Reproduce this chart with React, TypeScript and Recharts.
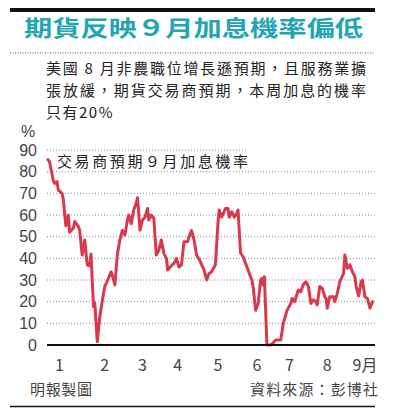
import React from 'react';
import {
  LineChart,
  Line,
  XAxis,
  YAxis,
  CartesianGrid,
  ReferenceLine
} from 'recharts';

// day of year (1 Jan = 0) for each reading
const days = [
  0, 2, 5, 6, 8, 9, 12, 13, 15, 17, 18, 21, 22, 25, 26, 28, 30,
  32, 34, 35, 37, 38, 40, 42, 45, 46, 49, 51, 53, 54, 56, 58,
  60, 62, 64, 65, 67, 69, 71, 72, 74, 76, 78, 80, 81, 83, 85, 87, 89,
  91, 93, 95, 96, 98, 101, 103, 105, 107, 109, 112, 113, 115, 117, 119,
  122, 125, 127, 129, 131, 134, 136, 137, 139, 142, 144, 145, 147, 149,
  151, 152, 154, 156, 158, 160, 162, 163, 164, 166, 168, 170, 171, 172, 173, 175, 178, 180,
  182, 186, 188, 191, 192, 194, 195, 197, 200, 202, 204, 206, 208, 210,
  212, 214, 215, 217, 219, 221, 222, 223, 225, 228, 229, 231, 233, 236, 237, 239, 241,
  243, 245, 246, 248, 250, 251, 253, 255, 257, 259, 260
];

// probability (%) of a September hike priced by traders
const hikeProb = [
  86, 84.6, 76, 74.6, 75.4, 71.5, 70, 67, 55, 60, 52, 54, 57, 54.6, 53, 41.5, 48.5,
  37, 36.5, 42, 17.7, 19.4, 1.5, 13, 24, 27, 31, 33.8, 30, 27.7, 42, 48.5,
  53, 50.8, 57.7, 60, 56, 62.3, 65.4, 68, 53, 57.7, 59, 63, 57.7, 60, 58.5, 41.5, 43.8,
  48.5, 42.3, 40, 34.6, 36, 37.7, 40, 36, 37, 47.7, 47.7, 50, 52.8, 48.5, 41.5,
  38.5, 34.6, 30, 33, 33.8, 37, 56, 62.3, 59, 63, 63, 59, 61.5, 59,
  60.8, 62.3, 42.5, 40.8, 37.7, 34.6, 31.5, 30, 27, 16, 19.2, 30, 30.8, 27.7, 31.5, 0, 0, 1,
  2.3, 2.3, 10, 16, 17, 19.2, 21.5, 20, 25.4, 24.6, 28, 29.2, 27, 19.2,
  20.8, 20, 18.5, 27, 26.2, 22.3, 21.5, 17, 22.3, 22.3, 20, 23.8, 29.2, 33, 41.5, 35.4, 37,
  33.8, 31.5, 27, 22.6, 29.2, 30, 22.3, 21.5, 17, 20, 20
];

const monthStarts = [0, 31, 59, 90, 120, 151, 181, 212, 243];
const monthLabelDays = [10, 46, 76, 104, 136, 167, 193, 223, 253];
const monthLabels = ['1', '2', '3', '4', '5', '6', '7', '8', '9月'];
const yTicks = [0, 10, 20, 30, 40, 50, 60, 70, 80, 90];
const gridValues = [10, 20, 30, 40, 50, 60, 70, 80];

const data = days.map((d, i) => ({ day: d, prob: hikeProb[i] }));

const FONT = "'Liberation Sans', 'Noto Sans CJK TC', sans-serif";
const CJK = "'Noto Sans CJK TC', 'Liberation Sans', sans-serif";
const RED = '#d8394d';

export default function App() {
  return (
    <div style={{ position: 'absolute', left: 0, top: 0, width: 394, height: 417, background: '#fff', fontFamily: FONT }}>
      <LineChart
        width={394}
        height={417}
        data={data}
        margin={{ top: 150, right: 19, bottom: 34, left: 0 }}
      >
        <CartesianGrid
          vertical={false}
          horizontalValues={gridValues}
          stroke="#8a8a8a"
          strokeDasharray="1 2"
        />
        <ReferenceLine
          segment={[{ x: 0, y: 90 }, { x: 160, y: 90 }]}
          stroke="#8a8a8a"
          strokeDasharray="1 2"
        />
        <XAxis
          dataKey="day"
          type="number"
          domain={[0, 261]}
          ticks={monthStarts}
          tick={false}
          height={8}
          tickSize={7}
          axisLine={{ stroke: '#111', strokeWidth: 2 }}
          tickLine={{ stroke: '#111', strokeWidth: 2 }}
        />
        <XAxis
          xAxisId="lbl"
          dataKey="day"
          type="number"
          domain={[0, 261]}
          ticks={monthLabelDays}
          tickFormatter={(v: number) => monthLabels[monthLabelDays.indexOf(v)]}
          height={30}
          axisLine={false}
          tickLine={false}
          tickSize={0}
          tickMargin={7}
          tick={{ fontSize: 16, fill: '#444', fontFamily: CJK }}
          interval={0}
        />
        <YAxis
          type="number"
          domain={[0, 90]}
          ticks={yTicks}
          width={47}
          axisLine={false}
          tickLine={false}
          tickSize={0}
          tickMargin={10}
          tick={{ fontSize: 16, fill: '#444', fontFamily: FONT }}
          interval={0}
        />
        <Line
          type="linear"
          dataKey="prob"
          stroke={RED}
          strokeWidth={3}
          strokeLinejoin="round"
          dot={false}
          isAnimationActive={false}
        />
      </LineChart>

      <svg
        width={394}
        height={417}
        style={{ position: 'absolute', left: 0, top: 0, pointerEvents: 'none' }}
      >
        <rect x={10} y={8} width={365} height={4} fill="#111" />
        <text x={24} y={36} fontSize={22} fontWeight="bold" fill="#23a5b6" fontFamily={CJK}
          textLength={339} lengthAdjust="spacingAndGlyphs">
          期貨反映９月加息機率偏低
        </text>
        <line x1={10} y1={53} x2={375} y2={53} stroke="#555" strokeDasharray="1 1.5" />
        <g fontSize={15} fill="#222" fontFamily={CJK}>
          <text x={46} y={73.5} textLength={320} lengthAdjust="spacing">美國 8 月非農職位增長遜預期，且服務業擴</text>
          <text x={46} y={95.5} textLength={320} lengthAdjust="spacing">張放緩，期貨交易商預期，本周加息的機率</text>
          <text x={46} y={117.5} letterSpacing={1.5}>只有20%</text>
        </g>
        <text x={21} y={137} fontSize={16} fill="#444" fontFamily={FONT}>%</text>
        <text x={57} y={167} fontSize={15} fill="#222" fontFamily={CJK}
          textLength={191} lengthAdjust="spacing">
          交易商預期９月加息機率
        </text>
        <g fontSize={15} fill="#444" fontFamily={CJK}>
          <text x={30} y={395} textLength={62} lengthAdjust="spacing">明報製圖</text>
          <text x={378} y={395} textAnchor="end" textLength={128} lengthAdjust="spacing">資料來源：彭博社</text>
        </g>
        <line x1={10} y1={406.5} x2={375} y2={406.5} stroke="#111" strokeWidth={1.5} />
      </svg>
    </div>
  );
}
